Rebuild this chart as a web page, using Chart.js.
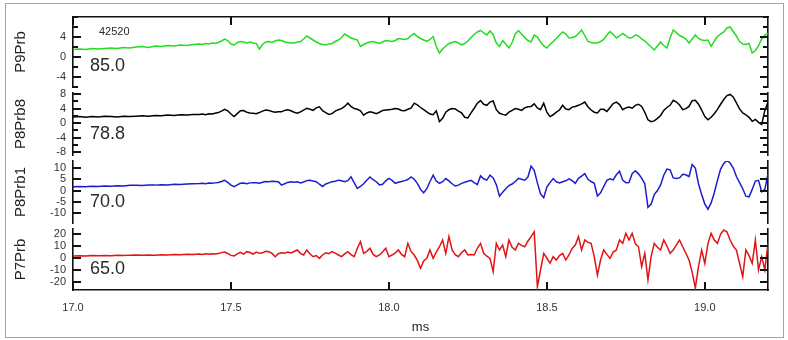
<!DOCTYPE html>
<html>
<head>
<meta charset="utf-8">
<script src="https://cdn.jsdelivr.net/npm/chart.js@4.4.1/dist/chart.umd.min.js"></script>
<style>
  html, body { margin: 0; padding: 0; background: #fff; }
  #wrap { position: relative; width: 788px; height: 340px; overflow: hidden; }
  #frame { position: absolute; left: 5px; top: 3px; width: 779px; height: 335px; box-sizing: border-box; border: 1px solid #a3a3a3; }
  #c { position: absolute; left: 0; top: 0; }
</style>
</head>
<body>
<div id="wrap"><div id="frame"></div><canvas id="c" width="788" height="340"></canvas></div>
<script>
// Sample times (ms)
const timesMs = [
  17.00,17.02,17.04,17.06,17.08,17.10,17.12,17.14,17.16,17.18,17.20,17.22,17.24,17.26,17.28,17.30,17.32,17.34,17.36,17.38,17.40,
  17.41,17.42,17.43,17.44,17.45,17.46,17.47,17.48,17.49,17.50,
  17.51,17.52,17.53,17.54,17.55,17.56,17.57,17.58,17.59,17.60,
  17.61,17.62,17.63,17.64,17.65,17.66,17.67,17.68,17.69,17.70,
  17.71,17.72,17.73,17.74,17.75,17.76,17.77,17.78,17.79,17.80,
  17.81,17.82,17.83,17.84,17.85,17.86,17.87,17.88,17.89,17.90,
  17.91,17.92,17.93,17.94,17.95,17.96,17.97,17.98,17.99,18.00,
  18.01,18.02,18.03,18.04,18.05,18.06,18.07,18.08,18.09,18.10,
  18.11,18.12,18.13,18.14,18.15,18.16,18.17,18.18,18.19,18.20,
  18.21,18.22,18.23,18.24,18.25,18.26,18.27,18.28,18.29,18.30,
  18.31,18.32,18.33,18.34,18.35,18.36,18.37,18.38,18.39,18.40,
  18.41,18.42,18.43,18.44,18.45,18.46,18.47,18.48,18.49,18.50,
  18.51,18.52,18.53,18.54,18.55,18.56,18.57,18.58,18.59,18.60,
  18.61,18.62,18.63,18.64,18.65,18.66,18.67,18.68,18.69,18.70,
  18.71,18.72,18.73,18.74,18.75,18.76,18.77,18.78,18.79,18.80,
  18.81,18.82,18.83,18.84,18.85,18.86,18.87,18.88,18.89,18.90,
  18.91,18.92,18.93,18.94,18.95,18.96,18.97,18.98,18.99,19.00,
  19.01,19.02,19.03,19.04,19.05,19.06,19.07,19.08,19.09,19.10,
  19.11,19.12,19.13,19.14,19.15,19.16,19.17,19.18,19.19,19.20
];

// Probe signals
const p9Prb = [
  1.5,1.6,1.5,1.7,1.6,1.7,1.8,1.7,1.9,1.8,2.0,2.1,1.9,2.2,2.1,2.3,2.2,2.4,2.3,2.5,2.6,
  2.5,2.7,2.6,2.8,2.7,2.9,3.2,3.6,3.3,2.6,
  2.4,2.9,3.1,3.0,2.8,3.0,2.8,2.7,1.6,2.5,
  3.0,3.1,2.9,3.2,3.4,3.3,3.0,2.9,2.8,2.8,
  3.0,3.1,3.6,4.2,3.8,3.4,3.0,2.7,2.5,2.4,
  2.6,2.7,3.1,3.4,3.9,4.6,4.2,3.8,3.6,3.4,
  2.1,2.5,2.8,3.0,3.1,2.9,2.7,3.0,3.3,3.2,
  3.1,3.3,3.7,3.6,3.5,3.7,4.3,4.7,4.1,3.7,
  3.4,3.1,3.5,4.1,2.1,0.8,1.6,2.2,2.7,2.9,
  3.1,2.8,2.4,2.7,3.2,3.9,4.5,5.0,5.3,4.8,
  4.4,5.2,4.5,2.8,2.1,3.3,2.6,1.8,2.9,4.6,
  5.3,4.6,3.9,3.3,3.0,4.4,4.0,3.0,2.2,1.8,
  2.5,3.1,3.7,4.4,5.0,4.6,3.8,3.9,4.1,4.7,
  5.4,4.3,3.1,2.9,2.8,2.8,3.1,3.5,4.4,5.1,
  4.5,3.8,4.2,4.7,4.3,3.8,3.9,4.4,4.2,3.6,
  3.2,2.6,2.0,1.4,2.2,3.0,2.3,1.8,3.8,5.4,
  4.9,4.3,4.0,3.6,2.8,3.6,4.4,3.7,3.4,3.3,
  3.4,2.1,3.2,4.1,4.6,5.0,5.8,6.0,5.1,4.2,
  3.1,2.6,2.5,2.7,0.8,1.3,2.2,3.6,4.4,4.7
];
const p8Prb8 = [
  1.7,1.8,1.6,1.8,1.7,1.9,1.8,1.7,1.9,1.8,1.9,2.0,1.9,2.1,2.0,2.2,2.1,2.3,2.2,2.4,2.4,
  2.5,2.3,2.6,2.5,2.7,2.9,3.3,3.8,3.4,2.5,
  1.8,2.6,3.4,3.5,3.0,2.8,2.7,2.6,2.9,3.3,
  3.6,3.5,3.2,3.0,3.1,3.1,3.5,3.7,3.4,3.0,
  2.7,3.1,3.6,4.1,3.8,3.5,4.2,4.5,3.4,2.9,
  2.4,2.6,3.3,3.7,4.0,4.6,5.5,4.6,4.0,3.8,
  3.4,2.2,2.8,3.1,2.9,2.6,3.0,3.5,3.6,3.7,
  3.8,4.0,3.9,3.5,3.4,3.8,4.1,5.5,5.0,4.3,
  3.7,3.1,2.5,2.3,3.4,0.4,1.3,3.0,3.7,4.0,
  3.9,3.3,2.8,1.6,1.4,2.8,4.1,5.5,6.2,5.2,
  4.9,5.8,6.1,3.7,2.7,2.4,2.2,3.0,3.5,4.0,
  3.8,3.5,4.2,4.5,4.6,5.3,4.2,3.7,5.5,3.0,
  1.8,2.3,3.0,3.6,4.9,3.9,3.7,4.4,4.6,4.9,
  5.3,5.8,4.5,3.6,3.0,2.8,3.8,3.8,3.2,4.3,
  5.4,5.8,5.1,3.7,4.2,4.4,4.1,4.9,5.2,4.6,
  3.0,0.9,0.4,0.6,1.3,2.1,3.5,4.3,4.9,6.3,
  5.8,5.0,3.7,4.0,4.6,6.2,6.3,5.2,3.6,1.8,
  0.9,1.6,2.6,3.8,5.2,6.5,7.6,7.9,7.2,5.6,
  3.9,2.8,2.3,1.6,0.5,1.0,0.2,-0.4,3.5,5.8
];
const p8Prb1 = [
  1.7,1.8,1.7,1.9,1.8,2.0,1.9,2.1,2.0,2.3,2.3,2.2,2.5,2.4,2.6,2.5,2.8,2.7,2.9,3.0,3.1,
  3.2,3.0,3.3,3.2,3.4,3.6,4.0,4.5,3.6,2.4,
  1.7,2.5,3.2,3.3,3.0,3.4,3.5,3.5,3.2,3.7,
  4.0,3.9,4.1,4.0,3.9,2.4,3.0,3.6,3.9,3.7,
  3.9,3.4,3.8,4.4,4.6,4.2,3.9,2.8,1.8,2.9,
  3.4,3.9,4.1,4.6,4.3,3.9,4.4,6.1,3.5,0.9,
  1.8,3.0,4.6,6.0,4.8,3.9,2.5,2.8,4.3,5.4,
  4.5,3.2,3.7,4.0,4.4,4.9,6.0,5.0,3.2,0.5,
  -1.0,0.8,4.0,6.8,4.2,3.2,3.9,5.3,4.3,3.0,
  2.0,2.4,3.2,3.7,4.1,4.5,3.5,2.6,6.5,5.2,
  4.6,6.8,5.6,2.6,-2.5,-0.8,0.8,2.2,2.9,4.0,
  5.4,5.0,4.6,6.0,10.8,9.0,3.4,-1.5,-3.2,1.5,
  3.5,5.3,3.9,3.4,3.9,4.3,5.2,4.4,3.2,5.4,
  6.4,7.5,5.0,4.0,3.2,-2.4,-1.0,1.8,4.5,5.2,
  4.7,7.0,8.6,4.6,3.5,3.6,7.5,8.8,7.4,5.5,
  3.0,-7.5,-6.0,-1.8,0.0,2.5,6.8,9.5,9.2,5.6,
  5.3,5.6,7.2,7.0,6.2,11.5,10.0,3.0,-1.8,-6.0,
  -8.3,-5.5,-1.0,4.5,9.5,12.0,13.4,12.2,10.0,6.2,
  3.5,0.8,-2.5,-2.8,0.5,4.2,4.5,-0.5,0.5,7.5
];
const p7Prb = [
  1.7,1.9,1.6,2.0,1.8,2.1,1.9,2.2,2.0,2.4,2.5,2.2,2.6,2.4,2.8,2.6,3.0,2.7,3.1,2.9,3.3,
  3.0,3.5,3.2,3.6,3.4,3.8,4.5,5.0,3.8,2.2,
  1.7,3.5,4.8,3.2,5.3,4.6,3.3,5.0,3.9,4.3,
  5.6,5.2,3.8,1.1,3.6,4.4,4.0,5.0,4.2,5.4,
  6.7,3.9,2.5,6.7,3.5,1.1,2.0,-0.3,2.5,4.4,
  3.6,5.3,4.1,2.5,1.1,3.4,5.3,2.8,1.1,8.1,
  13.6,3.9,5.6,8.1,3.0,1.1,2.5,5.0,8.1,1.1,
  2.5,4.2,6.7,3.0,1.1,12.2,5.5,2.5,-2.0,-8.6,
  -2.5,-0.3,6.7,-0.3,5.0,9.4,15.0,3.9,17.8,6.7,
  2.8,1.1,4.5,6.7,2.5,3.0,2.5,8.1,12.2,3.9,
  1.5,-0.3,-11.4,12.2,6.7,10.8,1.1,15.0,9.0,6.7,
  12.2,10.5,9.4,14.0,17.8,21.9,-23.9,-10.0,3.9,0.0,
  -4.4,1.1,-1.7,2.0,3.9,-1.7,2.5,8.0,10.8,17.8,
  6.7,15.0,13.0,12.2,1.1,-14.2,-1.7,6.7,3.0,-0.3,
  5.0,6.7,15.0,12.2,20.6,15.0,20.6,12.0,9.4,-7.2,
  3.9,-18.3,1.1,12.2,9.0,6.7,15.0,10.0,3.9,6.7,
  11.0,15.0,9.4,4.0,-1.7,-12.0,-25.0,-7.2,6.7,-4.4,
  12.2,20.6,15.0,12.2,20.0,23.3,21.9,15.0,10.0,6.7,
  -4.4,-15.6,6.7,2.0,-4.4,15.0,-10.0,1.1,-10.0,12.2
];

// Panel text
const panelNames = ['P9Prb', 'P8Prb8', 'P8Prb1', 'P7Prb'];
const panelTags = ['85.0', '78.8', '70.0', '65.0'];
const shotNumber = '42520';
const xTickLabels = ['17.0', '17.5', '18.0', '18.5', '19.0'];
const p9TickLabels = [4, 0, -4];
const p8b8TickLabels = [8, 4, 0, -4, -8];
const p8b1TickLabels = [10, 5, 0, -5, -10];
const p7TickLabels = [20, 10, 0, -10, -20];

const FONT = "'Liberation Sans', Arial, Helvetica, sans-serif";
const INK = '#111111';
const NO_GRID = { display: false, drawTicks: false, tickLength: 0 };

function leftAxis(name, min, max, step, labels, size, order) {
  return {
    type: 'linear', position: 'left', stack: 'panels', stackWeight: size, weight: order,
    min: min, max: max,
    ticks: {
      stepSize: step, includeBounds: false, autoSkip: false, padding: 7,
      color: '#333', font: { family: FONT, size: 11 },
      callback: (v) => labels.includes(v) ? String(v) : ''
    },
    grid: NO_GRID,
    border: { display: true, color: INK, width: 1.6 },
    title: { display: true, text: name, color: '#222', font: { family: FONT, size: 15 }, padding: { top: 7, bottom: 0 } },
    afterFit: (s) => { s.width = 68; }
  };
}
function rightAxis(min, max, step, size, order) {
  return {
    type: 'linear', position: 'right', stack: 'panels', stackWeight: size, weight: order,
    min: min, max: max,
    ticks: { display: false, stepSize: step, includeBounds: false, padding: 0 },
    grid: NO_GRID,
    border: { display: true, color: INK, width: 1.6 },
    afterFit: (s) => { s.width = 0; }
  };
}
function spacer(position, size, order) {
  return { type: 'linear', position: position, stack: 'panels', stackWeight: size, weight: order, display: false };
}

function series(values, axisId, color) {
  return {
    data: timesMs.map((t, i) => ({ x: t, y: values[i] })),
    yAxisID: axisId, xAxisID: 'x',
    borderColor: color, borderWidth: 1.5, pointRadius: 0, tension: 0, fill: false
  };
}

// Each panel: left scale, right scale, labelled (long) tick values
const panelScales = [
  ['y1', 'r1', p9TickLabels],
  ['y2', 'r2', p8b8TickLabels],
  ['y3', 'r3', p8b1TickLabels],
  ['y4', 'r4', p7TickLabels]
];

// Inward tick marks on every axis line
function drawInwardTicks(chart) {
  const ctx = chart.ctx;
  ctx.save();
  ctx.globalAlpha = 1;
  ctx.globalCompositeOperation = 'source-over';
  ctx.setLineDash([]);
  ctx.strokeStyle = INK;
  ctx.lineWidth = 2;
  ctx.lineCap = 'butt';
  const mark = (x1, y1, x2, y2) => { ctx.beginPath(); ctx.moveTo(x1, y1); ctx.lineTo(x2, y2); ctx.stroke(); };
  panelScales.forEach(([lid, rid, labels]) => {
    const ls = chart.scales[lid];
    const rs = chart.scales[rid];
    ls.ticks.forEach((t) => {
      const y = Math.round(ls.getPixelForValue(t.value));
      mark(ls.right, y, ls.right + (labels.includes(t.value) ? 8 : 5), y);
    });
    rs.ticks.forEach((t) => {
      const y = Math.round(rs.getPixelForValue(t.value));
      mark(rs.left, y, rs.left - (labels.includes(t.value) ? 8 : 5), y);
    });
  });
  const xb = chart.scales.x;
  const xt = chart.scales.xTop;
  xb.ticks.forEach((t) => {
    const x = Math.round(xb.getPixelForValue(t.value));
    mark(x, xb.top, x, xb.top - 8);
  });
  xt.ticks.forEach((t) => {
    const x = Math.round(xt.getPixelForValue(t.value));
    mark(x, xt.bottom, x, xt.bottom + 8);
  });
  ctx.restore();
}

// Panel tags and shot number
function drawPanelText(chart) {
  const ctx = chart.ctx;
  const left = chart.chartArea.left;
  ctx.save();
  ctx.fillStyle = '#2a2a2a';
  ctx.textAlign = 'left';
  ctx.textBaseline = 'middle';
  ctx.font = '18px ' + FONT;
  ['y1', 'y2', 'y3', 'y4'].forEach((id, i) => {
    const s = chart.scales[id];
    ctx.fillText(panelTags[i], left + 17, s.bottom - 20.5);
  });
  ctx.font = '11px ' + FONT;
  ctx.fillText(shotNumber, left + 26, chart.scales.y1.top + 15);
  ctx.restore();
}

const frameDecor = {
  id: 'frameDecor',
  afterDatasetsDraw(chart) { drawPanelText(chart); },
  afterDraw(chart) { drawInwardTicks(chart); }
};

new Chart(document.getElementById('c'), {
  type: 'line',
  data: {
    datasets: [
      series(p9Prb, 'y1', '#22dd22'),
      series(p8Prb8, 'y2', '#000000'),
      series(p8Prb1, 'y3', '#1c1cd0'),
      series(p7Prb, 'y4', '#e01414')
    ]
  },
  options: {
    responsive: false,
    animation: false,
    events: [],
    layout: { padding: { left: 5, right: 20, top: 17, bottom: 4 } },
    plugins: { legend: { display: false }, tooltip: { enabled: false } },
    scales: {
      x: {
        type: 'linear', position: 'bottom', min: 17, max: 19.2,
        ticks: {
          stepSize: 0.5, includeBounds: false, autoSkip: false, maxRotation: 0, padding: 11,
          color: '#333', font: { family: FONT, size: 11 },
          callback: (v, i) => xTickLabels[i]
        },
        grid: NO_GRID,
        border: { display: true, color: INK, width: 1.6 },
        title: { display: true, text: 'ms', color: '#222', font: { family: FONT, size: 13 }, padding: { top: 0, bottom: 1 } },
        afterFit: (s) => { s.height = 46; }
      },
      xTop: {
        type: 'linear', position: 'top', min: 17, max: 19.2,
        ticks: { display: false, stepSize: 0.5, includeBounds: false, padding: 0 },
        grid: NO_GRID,
        border: { display: true, color: INK, width: 1.6 },
        afterFit: (s) => { s.height = 0; }
      },
      y1: leftAxis(panelNames[0], -6, 8, 2, p9TickLabels, 70, 7),
      g1: spacer('left', 6, 6),
      y2: leftAxis(panelNames[1], -8.8, 8.3, 2, p8b8TickLabels, 62, 5),
      g2: spacer('left', 6, 4),
      y3: leftAxis(panelNames[2], -14.4, 13.1, 5, p8b1TickLabels, 62, 3),
      g3: spacer('left', 6, 2),
      y4: leftAxis(panelNames[3], -26.7, 24.2, 10, p7TickLabels, 61, 1),
      r1: rightAxis(-6, 8, 2, 70, 1),
      rg1: spacer('right', 6, 2),
      r2: rightAxis(-8.8, 8.3, 2, 62, 3),
      rg2: spacer('right', 6, 4),
      r3: rightAxis(-14.4, 13.1, 5, 62, 5),
      rg3: spacer('right', 6, 6),
      r4: rightAxis(-26.7, 24.2, 10, 61, 7)
    }
  },
  plugins: [frameDecor]
});
</script>
</body>
</html>
